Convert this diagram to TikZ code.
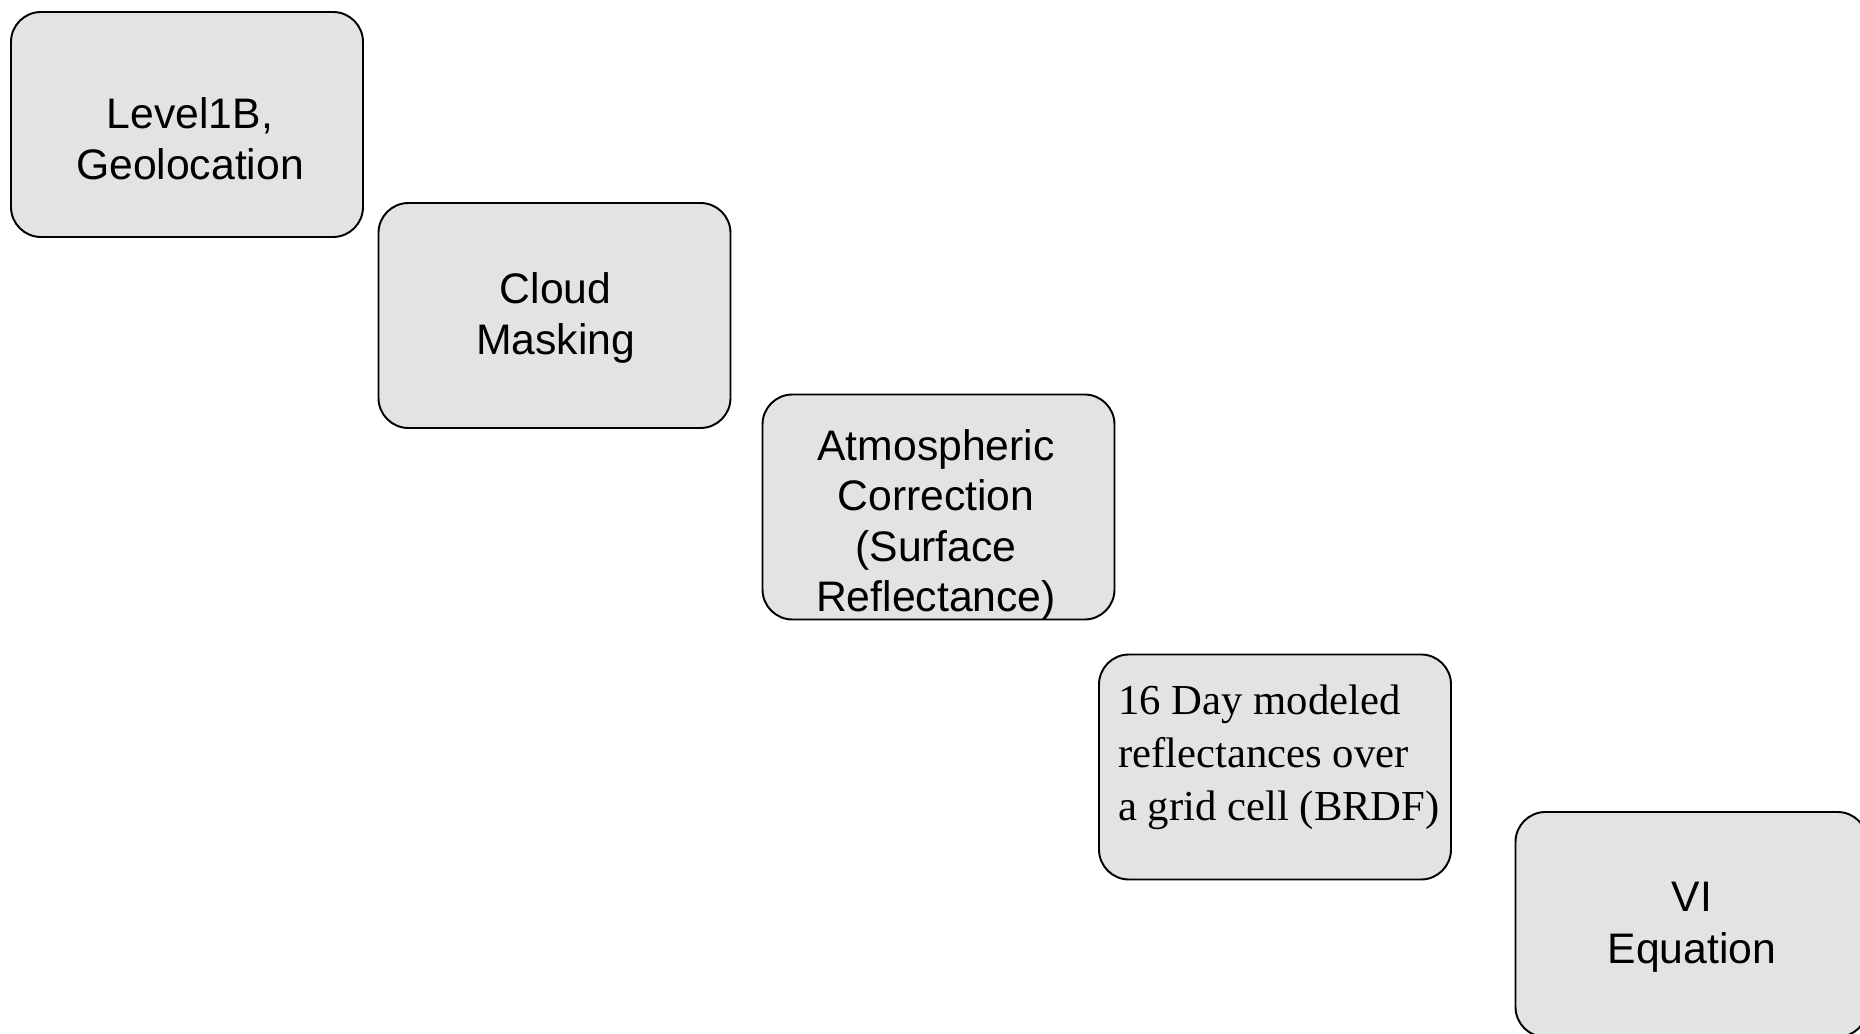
\documentclass[tikz,border=0pt]{standalone}
\usepackage{fontspec}
\setmainfont{Liberation Serif}
\setsansfont{Liberation Sans}
\usepackage{xcolor}
\definecolor{boxgray}{HTML}{E3E3E3}

\begin{document}
\begin{tikzpicture}
[
	stepbox/.style={draw=black, fill=boxgray, line width=1.1pt, rounded corners=0.6cm, minimum width=7.04cm, minimum height=4.5cm, inner sep=0pt},
	steplabel/.style={font=\sffamily\fontsize{24.3}{#1}\selectfont, align=center, anchor=base, inner sep=0pt},
	steplabel/.default=29.5pt,
	serifLabel/.style={font=\rmfamily\fontsize{24.3}{30}\selectfont, align=left, anchor=base west, inner sep=0pt}
]

% Fix page size
\useasboundingbox (0,0) rectangle (37.2,-20.68);

% Draw boxes
\node[stepbox] (level) at (3.74,-2.49) {};
\node[stepbox] (cloud) at (11.09,-6.31) {};
\node[stepbox] (atmos) at (18.77,-10.14) {};
\node[stepbox] (brdf) at (25.5,-15.34) {};
\node[stepbox] (vi) at (33.83,-18.49) {};

% Draw box texts (anchored at the last line)
\node[steplabel] (levelText) at (3.8,-3.6) {Level1B,\\Geolocation};
\node[steplabel] (cloudText) at (11.11,-7.1) {Cloud\\Masking};
\node[steplabel=28.8pt] (atmosText) at (18.72,-12.24) {Atmospheric\\Correction\\(Surface\\Reflectance)};
\node[serifLabel] (brdfText) at (22.36,-16.4) {16 Day modeled\\reflectances over\\a grid cell (BRDF)};
\node[steplabel] (viText) at (33.84,-19.26) {VI\\Equation};

\end{tikzpicture}
\end{document}
